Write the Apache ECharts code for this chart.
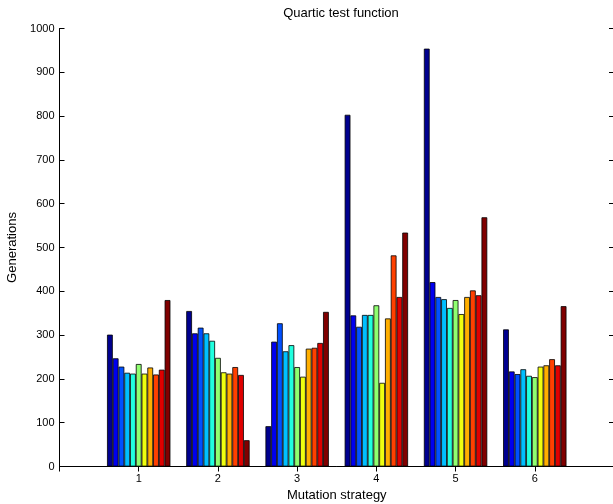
<!DOCTYPE html>
<html>
<head>
<meta charset="utf-8">
<script src="https://cdn.jsdelivr.net/npm/echarts@6/dist/echarts.min.js"></script>
<style>
html, body { margin: 0; padding: 0; background: #fff; }
#main { width: 613px; height: 504px; }
</style>
</head>
<body>
<div id="main"></div>
<script>
// strategies on the x axis, padded with empty slots so the axis runs 0..7
let strategies = ['', '1', '2', '3', '4', '5', '6', ''];

// generations per strategy, one value for each of the 11 bars
let strategy1 = [301, 247, 228, 214, 212, 234, 212, 226, 210, 221, 380];
let strategy2 = [355, 304, 317, 304, 287, 248, 215, 212, 227, 209, 60];
let strategy3 = [92, 285, 327, 263, 277, 227, 205, 269, 271, 282, 353];
let strategy4 = [803, 345, 319, 346, 346, 368, 191, 338, 482, 387, 534];
let strategy5 = [954, 421, 387, 382, 362, 380, 348, 387, 402, 391, 569];
let strategy6 = [313, 217, 211, 222, 207, 204, 228, 231, 245, 231, 366];

let yTicks = [0, 100, 200, 300, 400, 500, 600, 700, 800, 900, 1000];

// jet colormap, 11 samples
let colors = ['#00008f', '#0000ef', '#0050ff', '#00bfff', '#20ffdf', '#8fff70',
    '#efff10', '#ffaf00', '#ff4000', '#df0000', '#800000'];

let groups = [strategy1, strategy2, strategy3, strategy4, strategy5, strategy6];

let myChart = echarts.init(document.getElementById('main'));

let series = [];
for (let k = 0; k < colors.length; k++) {
    let data = [null];
    for (let g = 0; g < groups.length; g++) {
        data.push(groups[g][k]);
    }
    data.push(null);
    series.push({
        type: 'bar',
        data: data,
        barGap: '0%',
        barCategoryGap: '20%',
        itemStyle: {
            color: colors[k],
            borderColor: '#000',
            borderWidth: 0.8
        },
        animation: false
    });
}

let font = 'Liberation Sans, Arial, Helvetica, sans-serif';
let axisLine = { show: true, lineStyle: { color: '#000', width: 1 } };
let tick = { show: true, inside: true, length: 5, lineStyle: { color: '#000' } };

let option = {
    animation: false,
    title: {
        text: 'Quartic test function',
        left: 336,
        top: 2,
        textAlign: 'center',
        textStyle: { fontFamily: font, fontSize: 13, fontWeight: 'normal', color: '#000' }
    },
    grid: { left: 59.5, top: 28.5, right: -1, bottom: 37.5, containLabel: false, outerBoundsMode: 'none' },
    xAxis: [{
        type: 'category',
        data: strategies,
        boundaryGap: false,
        position: 'bottom',
        name: 'Mutation strategy',
        nameLocation: 'middle',
        nameGap: 19,
        nameTextStyle: { fontFamily: font, fontSize: 13, color: '#000' },
        axisLine: axisLine,
        axisTick: tick,
        axisLabel: { fontFamily: font, fontSize: 11, color: '#000', margin: 7 },
        splitLine: { show: false }
    }, {
        type: 'category',
        data: strategies,
        boundaryGap: false,
        position: 'top',
        axisLine: axisLine,
        axisTick: tick,
        axisLabel: { show: false },
        splitLine: { show: false }
    }],
    yAxis: [{
        type: 'value',
        min: yTicks[0],
        max: yTicks[yTicks.length - 1],
        interval: 100,
        name: 'Generations',
        nameLocation: 'middle',
        nameGap: 36,
        nameTextStyle: { fontFamily: font, fontSize: 13, color: '#000' },
        axisLine: axisLine,
        axisTick: tick,
        axisLabel: {
            fontFamily: font, fontSize: 11, color: '#000', margin: 5,
            formatter: function (v) { return String(v); }
        },
        splitLine: { show: false }
    }, {
        type: 'value',
        min: yTicks[0],
        max: yTicks[yTicks.length - 1],
        interval: 100,
        position: 'right',
        axisLine: axisLine,
        axisTick: tick,
        axisLabel: { show: false },
        splitLine: { show: false }
    }],
    series: series
};
myChart.setOption(option);
</script>
</body>
</html>
